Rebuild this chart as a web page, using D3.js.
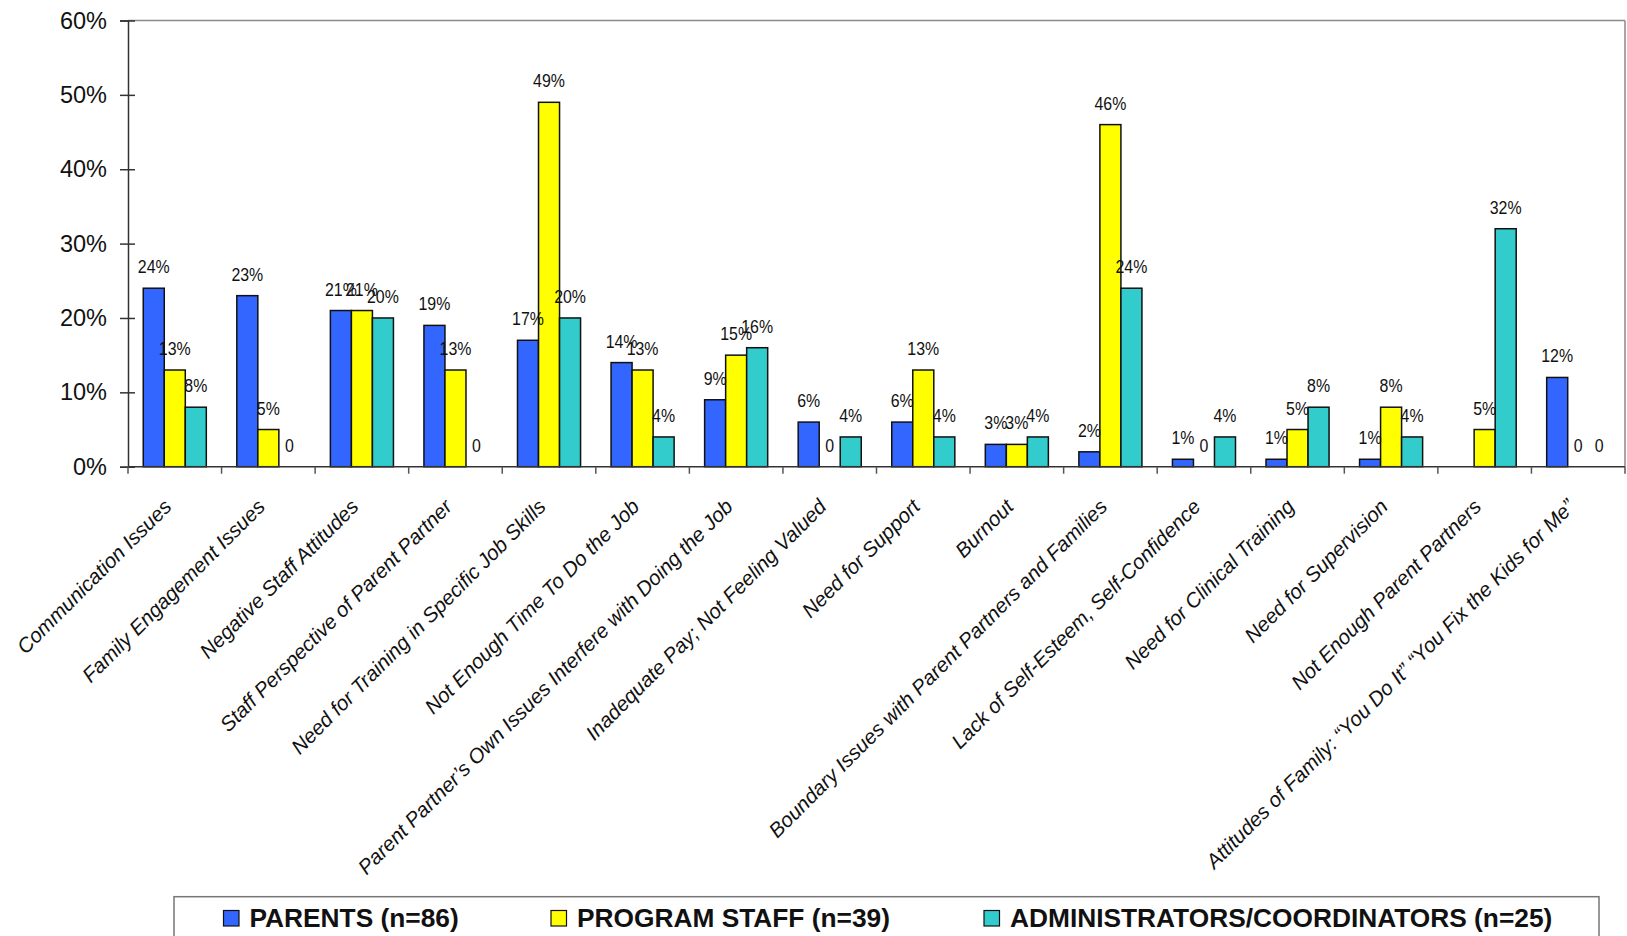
<!DOCTYPE html>
<html>
<head>
<meta charset="utf-8">
<script src="https://cdn.jsdelivr.net/npm/d3@7"></script>
<style>
  html, body { margin: 0; padding: 0; background: #fff; }
  svg { display: block; font-family: "Liberation Sans", Arial, Helvetica, sans-serif; }
</style>
</head>
<body>
<svg id="chart" width="1627" height="936"></svg>
<script>
const categories = [
  "Communication Issues",
  "Family Engagement Issues",
  "Negative Staff Attitudes",
  "Staff Perspective of Parent Partner",
  "Need for Training in Specific Job Skills",
  "Not Enough Time To Do the Job",
  "Parent Partner\u2019s Own Issues Interfere with Doing the Job",
  "Inadequate Pay; Not Feeling Valued",
  "Need for Support",
  "Burnout",
  "Boundary Issues with Parent Partners and Families",
  "Lack of Self-Esteem, Self-Confidence",
  "Need for Clinical Training",
  "Need for Supervision",
  "Not Enough Parent Partners",
  "Attitudes of Family: \u201CYou Do It\u201D \u201CYou Fix the Kids for Me\u201D"
];
const seriesNames = ["PARENTS (n=86)", "PROGRAM STAFF (n=39)", "ADMINISTRATORS/COORDINATORS (n=25)"];
const parents      = [24, 23, 21, 19, 17, 14, 9, 6, 6, 3, 2, 1, 1, 1, null, 12];
const programStaff = [13, 5, 21, 13, 49, 13, 15, 0, 13, 3, 46, 0, 5, 8, 5, 0];
const admins       = [8, 0, 20, 0, 20, 4, 16, 4, 4, 4, 24, 4, 8, 4, 32, 0];
const yTicks = [0, 10, 20, 30, 40, 50, 60];
const colors = ["#3366FF", "#FFFF00", "#33CCCC"];

const seriesValues = [parents, programStaff, admins];

const svg = d3.select("#chart");
svg.append("rect").attr("width", 1627).attr("height", 936).attr("fill", "#fff");

const pLeft = 128, pRight = 1625, pTop = 20.5, pBottom = 466.7;

const x0 = d3.scaleBand().domain(categories).range([pLeft, pRight]).paddingInner(0).paddingOuter(0);
const bw = x0.bandwidth();
const x1 = d3.scaleBand().domain(seriesNames).range([bw * 0.163, bw * 0.837]).padding(0);
const y = d3.scaleLinear().domain([0, 60]).range([pBottom, pTop]);

// plot border (top & right, gray)
svg.append("line").attr("x1", pLeft).attr("x2", pRight).attr("y1", pTop).attr("y2", pTop)
  .attr("stroke", "#8a8a8a").attr("stroke-width", 1.5);
svg.append("line").attr("x1", pRight).attr("x2", pRight).attr("y1", pTop).attr("y2", pBottom)
  .attr("stroke", "#8a8a8a").attr("stroke-width", 1.5);

// bars
const rows = [];
categories.forEach((c, i) => {
  seriesNames.forEach((s, j) => {
    rows.push({ cat: c, ser: s, j: j, v: seriesValues[j][i] });
  });
});

const g = svg.append("g");
g.selectAll("rect.bar")
  .data(rows.filter(d => d.v !== null && d.v > 0))
  .join("rect")
  .attr("class", "bar")
  .attr("x", d => x0(d.cat) + x1(d.ser))
  .attr("y", d => y(d.v))
  .attr("width", x1.bandwidth())
  .attr("height", d => y(0) - y(d.v))
  .attr("fill", d => colors[d.j])
  .attr("stroke", "#111")
  .attr("stroke-width", 1.5);

// data labels (slightly condensed, like the original narrow face)
g.selectAll("text.lbl")
  .data(rows.filter(d => d.v !== null))
  .join("text")
  .attr("class", "lbl")
  .attr("transform", d => `translate(${x0(d.cat) + x1(d.ser) + x1.bandwidth() / 2},${y(d.v) - 15}) scale(0.86,1)`)
  .attr("text-anchor", "middle")
  .attr("font-size", 18.5)
  .attr("fill", "#111")
  .text(d => d.v === 0 ? "0" : d.v + "%");

// y axis
const yAxis = d3.axisLeft(y).tickValues(yTicks).tickFormat(d => d + "%").tickSize(8).tickPadding(13);
const ya = svg.append("g").attr("transform", `translate(${pLeft},0)`).call(yAxis);
ya.select(".domain").attr("stroke", "#333").attr("stroke-width", 1.5);
ya.selectAll(".tick line").attr("stroke", "#333").attr("stroke-width", 1.5).attr("x2", -8).attr("x1", 7);
ya.selectAll(".tick text").attr("font-size", 23.5).attr("fill", "#111")
  .attr("font-family", "\"Liberation Sans\", Arial, sans-serif");

// x axis
svg.append("line").attr("x1", pLeft).attr("x2", pRight).attr("y1", pBottom).attr("y2", pBottom)
  .attr("stroke", "#333").attr("stroke-width", 1.5);
const boundaries = categories.map(c => x0(c)).concat([pRight]);
svg.selectAll("line.xtick").data(boundaries).join("line")
  .attr("class", "xtick")
  .attr("x1", d => d).attr("x2", d => d)
  .attr("y1", pBottom).attr("y2", pBottom + 7)
  .attr("stroke", "#555").attr("stroke-width", 1.5);

// category labels
svg.selectAll("text.cat").data(categories).join("text")
  .attr("class", "cat")
  .attr("transform", d => `translate(${x0(d) + bw / 2 - 2},${508}) rotate(-45)`)
  .attr("text-anchor", "end")
  .attr("font-size", 20.6)
  .attr("font-style", "italic")
  .attr("fill", "#111")
  .text(d => d);

// legend
const legend = svg.append("g");
legend.append("rect").attr("x", 174).attr("y", 896.7).attr("width", 1425).attr("height", 60)
  .attr("fill", "#fff").attr("stroke", "#777").attr("stroke-width", 1.5);
const legendX = [223.5, 551, 984];
seriesNames.forEach((s, j) => {
  legend.append("rect").attr("x", legendX[j]).attr("y", 910.5).attr("width", 15.5).attr("height", 15.5)
    .attr("fill", colors[j]).attr("stroke", "#111").attr("stroke-width", 1.2);
  legend.append("text").attr("x", legendX[j] + 26).attr("y", 927)
    .attr("font-size", 26.3).attr("font-weight", "bold").attr("fill", "#111").text(s);
});
</script>
</body>
</html>
